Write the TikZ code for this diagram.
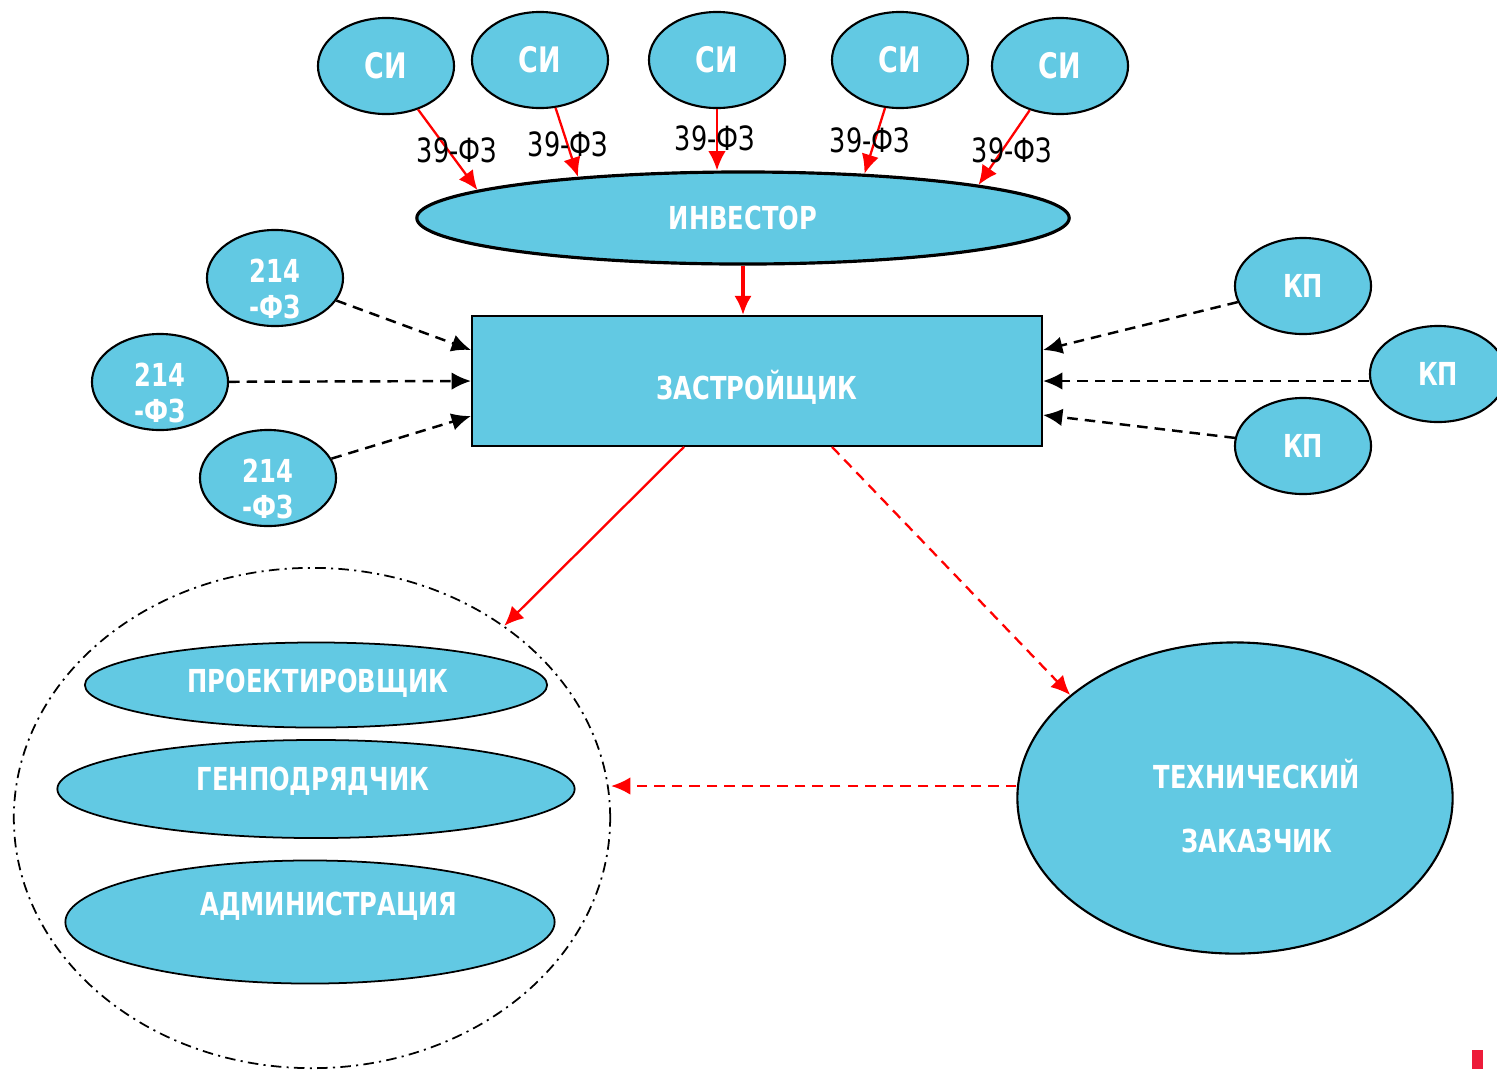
\documentclass[tikz,border=0pt]{standalone}
\usepackage{fontspec}
\IfFontExistsTF{DejaVu Sans Condensed}{\setmainfont[FakeStretch=0.85]{DejaVu Sans Condensed}}{\setmainfont[FakeStretch=0.85]{PT Sans}}
\usepackage{xcolor}
\usepackage{tikz}
\usetikzlibrary{shapes.geometric, arrows.meta, positioning}
\definecolor{nodecyan}{RGB}{98, 201, 227}
\definecolor{linered}{RGB}{255, 0, 0}
\definecolor{markred}{RGB}{237, 28, 58}

\begin{document}
\begin{tikzpicture}[
        x=0.01cm, y=-0.01cm,
        oval/.style={draw, ellipse, fill=nodecyan, line width=0.6pt, inner sep=0pt, text=white, font=\fontsize{9}{10}\selectfont\bfseries, align=center},
        small/.style={oval, minimum width=1.36cm, minimum height=0.96cm},
        lbl/.style={text=white, font=\fontsize{9}{10}\selectfont\bfseries, align=center, inner sep=0pt},
        law/.style={font=\fontsize{9.5}{11}\selectfont, inner sep=0pt},
        redarrow/.style={-{Latex[length=5.5pt,width=5pt]}, draw=linered, line width=0.65pt},
        redthick/.style={redarrow, line width=1.2pt},
        reddash/.style={redarrow, dash pattern=on 3pt off 2pt},
        blackdash/.style={-{Latex[length=5.5pt,width=5pt]}, line width=0.7pt, dash pattern=on 3pt off 2pt}
    ]
        \useasboundingbox (0,0) rectangle (1497,1069);

        % SI
        \node[small, font=\fontsize{10}{12}\selectfont\bfseries] (si1) at (386,66) {СИ};
        \node[small, font=\fontsize{10}{12}\selectfont\bfseries] (si2) at (540,60) {СИ};
        \node[small, font=\fontsize{10}{12}\selectfont\bfseries] (si3) at (717,60) {СИ};
        \node[small, font=\fontsize{10}{12}\selectfont\bfseries] (si4) at (900,60) {СИ};
        \node[small, font=\fontsize{10}{12}\selectfont\bfseries] (si5) at (1060,66) {СИ};

        % Investor and developer
        \node[oval, line width=0.9pt, minimum width=6.52cm, minimum height=0.92cm] (inv) at (743,218) {ИНВЕСТОР};
        \node[draw, fill=nodecyan, line width=0.5pt, minimum width=5.7cm, minimum height=1.3cm] (zas) at (757,381) {};
        \node[lbl] (zast) at (757,387) {ЗАСТРОЙЩИК};

        % 214-FZ
        \node[small] (z1) at (275,278) {};
        \node[lbl] (z1t) at ([yshift=-0.11cm]z1.center) {214\\-ФЗ};
        \node[small] (z2) at (160,382) {};
        \node[lbl] (z2t) at ([yshift=-0.11cm]z2.center) {214\\-ФЗ};
        \node[small] (z3) at (268,478) {};
        \node[lbl] (z3t) at ([yshift=-0.11cm]z3.center) {214\\-ФЗ};

        % KP
        \node[small] (kp1) at (1303,286) {КП};
        \node[small] (kp2) at (1438,374) {КП};
        \node[small] (kp3) at (1303,446) {КП};

        % Group
        \node[draw, ellipse, line width=0.5pt, dash pattern=on 3pt off 1.5pt on 0.6pt off 1.5pt, minimum width=5.96cm, minimum height=5cm, inner sep=0pt] (grp) at (312,818) {};
        \node[oval, line width=0.5pt, minimum width=4.62cm, minimum height=0.85cm] (proj) at (316,685) {};
        \node[lbl] (projt) at (318,683) {ПРОЕКТИРОВЩИК};
        \node[oval, line width=0.5pt, minimum width=5.17cm, minimum height=0.98cm] (gen) at (316,789) {};
        \node[lbl] (gent) at (313,781) {ГЕНПОДРЯДЧИК};
        \node[oval, line width=0.5pt, minimum width=4.89cm, minimum height=1.23cm] (adm) at (310,922) {};
        \node[lbl] (admt) at (329,906) {АДМИНИСТРАЦИЯ};

        % Technical customer
        \node[oval, minimum width=4.35cm, minimum height=3.11cm] (tz) at (1235,798) {};
        \node[lbl, font=\fontsize{9}{18}\selectfont\bfseries] (tzt) at (1257,806) {ТЕХНИЧЕСКИЙ\\ЗАКАЗЧИК};

        % Arrows
        \draw[redarrow] (si1) -- (inv.174);
        \draw[redarrow] (si2) -- (inv.166);
        \draw[redarrow] (si3) -- (si3 |- inv.north);
        \draw[redarrow] (si4) -- (inv.20);
        \draw[redarrow] (si5) -- (inv.8);
        \draw[redthick] (inv.south) -- (inv.south |- zas.north);

        \draw[blackdash] (z1) -- ([yshift=0.31cm]zas.west);
        \draw[blackdash] (z2) -- (zas.west);
        \draw[blackdash] (z3) -- ([yshift=-0.35cm]zas.west);
        \draw[blackdash] (kp1) -- ([yshift=0.31cm]zas.east);
        \draw[blackdash] (kp2.west |- zas.east) -- (zas.east);
        \draw[blackdash] (kp3) -- ([yshift=-0.34cm]zas.east);

        \draw[redarrow] ([xshift=-0.73cm]zas.south) -- (grp.45);
        \draw[reddash] ([xshift=0.75cm]zas.south) -- (tz.148);
        \coordinate (tzw) at ([yshift=0.12cm]tz.west);
        \draw[reddash] (tzw) -- (tzw -| grp.east);

        % Labels
        \node[law] (l1) at (457,150) {39-ФЗ};
        \node[law] (l2) at (568,144) {39-ФЗ};
        \node[law] (l3) at (715,138) {39-ФЗ};
        \node[law] (l4) at (870,140) {39-ФЗ};
        \node[law] (l5) at (1012,150) {39-ФЗ};

        % Mark
        \fill[markred] (1472,1050) rectangle (1483,1069);
    \end{tikzpicture}
\end{document}
